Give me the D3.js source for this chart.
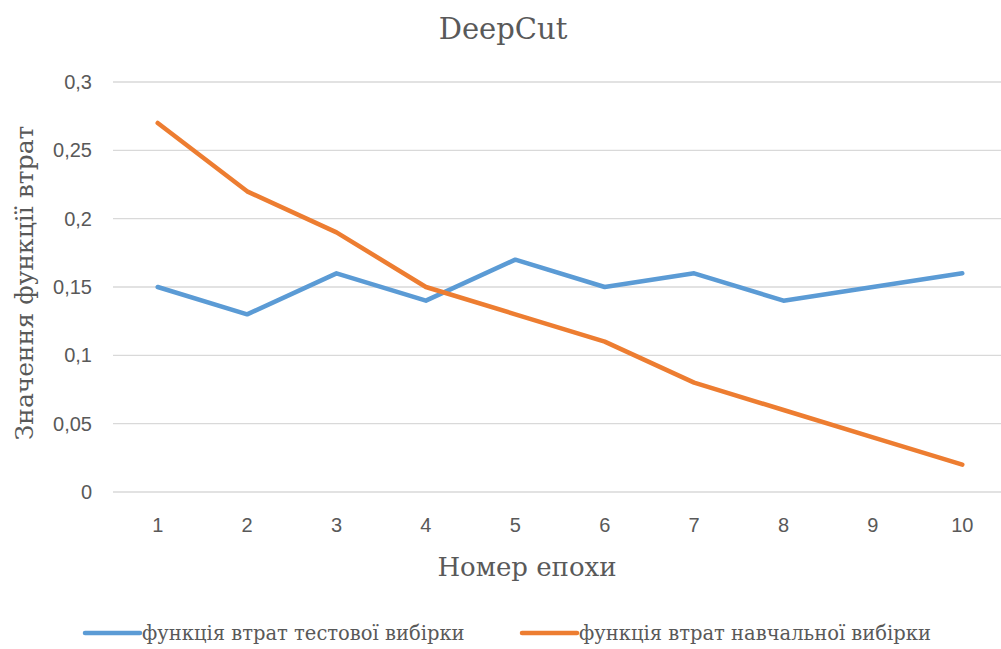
<!DOCTYPE html>
<html><head><meta charset="utf-8">
<script src="https://cdn.jsdelivr.net/npm/d3@7"></script>
<style>body{margin:0;background:#fff;} svg{display:block;}</style>
</head><body>
<svg id="c" width="1001" height="649"></svg>
<script>
const epochs = [1,2,3,4,5,6,7,8,9,10];
const testLoss = [0.15,0.13,0.16,0.14,0.17,0.15,0.16,0.14,0.15,0.16];
const trainLoss = [0.27,0.22,0.19,0.15,0.13,0.11,0.08,0.06,0.04,0.02];
const yTicks = [0,0.05,0.1,0.15,0.2,0.25,0.3];
const seriesNames = ["функція втрат тестової вибірки","функція втрат навчальної вибірки"];
const colors = ["#5B9BD5","#ED7D31"];

const svg = d3.select("#c");
const x = d3.scaleBand().domain(epochs).range([113,1007]);
const y = d3.scaleLinear().domain([0,0.3]).range([492,82]);
const serif = "'DejaVu Serif',serif";
const sans = "'Liberation Sans',Arial,sans-serif";

svg.append("g").selectAll("line").data(yTicks).join("line")
  .attr("x1",113).attr("x2",1007)
  .attr("y1",d=>y(d)).attr("y2",d=>y(d))
  .attr("stroke","#d9d9d9").attr("stroke-width",1.3);

const fmt = d => String(d).replace(".",",");
svg.append("g").selectAll("text").data(yTicks).join("text")
  .attr("x",92).attr("y",d=>y(d)).attr("dy","0.35em")
  .attr("text-anchor","end").attr("font-family",sans).attr("font-size",20)
  .attr("fill","#595959").text(fmt);

svg.append("g").selectAll("text").data(epochs).join("text")
  .attr("x",d=>x(d)+x.bandwidth()/2).attr("y",532)
  .attr("text-anchor","middle").attr("font-family",sans).attr("font-size",20)
  .attr("fill","#595959").text(d=>d);

const line = d3.line().x((d,i)=>x(epochs[i])+x.bandwidth()/2).y(d=>y(d));
[testLoss,trainLoss].forEach((s,k)=>{
  svg.append("path").datum(s).attr("d",line).attr("fill","none")
    .attr("stroke",colors[k]).attr("stroke-width",4.5)
    .attr("stroke-linejoin","round").attr("stroke-linecap","round");
});

svg.append("text").attr("x",503).attr("y",39).attr("text-anchor","middle")
  .attr("font-family",serif).attr("font-size",29).attr("fill","#595959").text("DeepCut");
svg.append("text").attr("x",527).attr("y",576).attr("text-anchor","middle")
  .attr("font-family",serif).attr("font-size",26).attr("fill","#595959").text("Номер епохи");
svg.append("text").attr("transform","translate(33,283) rotate(-90)").attr("text-anchor","middle")
  .attr("font-family",serif).attr("font-size",25).attr("fill","#595959").text("Значення функції втрат");

const leg = [{x1:85,x2:140,tx:142},{x1:522,x2:577,tx:579}];
leg.forEach((l,k)=>{
  svg.append("line").attr("x1",l.x1).attr("x2",l.x2).attr("y1",633).attr("y2",633)
    .attr("stroke",colors[k]).attr("stroke-width",4.5).attr("stroke-linecap","round");
  svg.append("text").attr("x",l.tx).attr("y",640).attr("font-family",serif).attr("font-size",19.5)
    .attr("fill","#595959").text(seriesNames[k]);
});
</script>
</body></html>
